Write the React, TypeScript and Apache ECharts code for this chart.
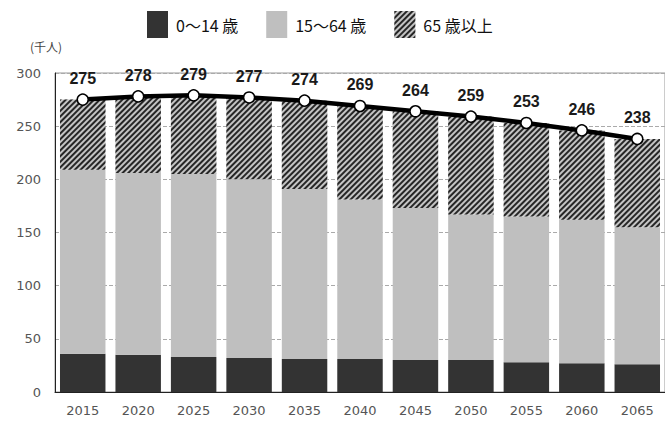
import React, { useEffect, useRef } from "react";
import * as echarts from "echarts";

const years = ["2015", "2020", "2025", "2030", "2035", "2040", "2045", "2050", "2055", "2060", "2065"];
const age0to14 = [36, 35, 33, 32, 31, 31, 30, 30, 28, 27, 26];
const age15to64 = [173, 171, 172, 168, 160, 150, 143, 137, 137, 135, 129];
const age65plus = [66, 72, 74, 77, 83, 88, 91, 92, 88, 84, 83];
const totals = [275, 278, 279, 277, 274, 269, 264, 259, 253, 246, 238];
const yTicks = { min: 0, max: 300, interval: 50 };

const FONT = "'Noto Sans CJK JP', 'Noto Sans', sans-serif";

export default function App() {
  const ref = useRef<HTMLDivElement>(null);
  useEffect(() => {
    if (!ref.current) return;
    const chart = echarts.init(ref.current, null, { renderer: "svg" });
    const hatch = {
      symbol: "rect",
      symbolSize: 1,
      dashArrayX: [1, 0],
      dashArrayY: [2, 1.2],
      rotation: -Math.PI / 4,
      color: "#262626",
    };
    chart.setOption({
      animation: false,
      backgroundColor: "#ffffff",
      textStyle: { fontFamily: FONT },
      legend: {
        left: 142,
        top: 6,
        icon: "rect",
        itemWidth: 21,
        itemHeight: 27,
        itemGap: 28,
        data: ["0〜14 歳", "15〜64 歳", "65 歳以上"],
        textStyle: { fontSize: 16, color: "#111", fontFamily: FONT, padding: [0, 0, 0, 3] },
      },
      grid: {
        left: 55,
        top: 73,
        width: 616,
        height: 319,
        show: true,
        borderColor: "#999",
        borderWidth: 1,
        containLabel: false,
      },
      graphic: [
        {
          type: "text",
          left: 30,
          top: 40,
          style: { text: "(千人)", fontSize: 12, fill: "#444", fontFamily: FONT },
        },
      ],
      xAxis: {
        type: "category",
        data: years,
        axisLine: { lineStyle: { color: "#222", width: 1 } },
        axisTick: { show: false },
        axisLabel: { fontSize: 13, color: "#555", margin: 12, fontFamily: "'DejaVu Sans', sans-serif" },
      },
      yAxis: {
        type: "value",
        min: yTicks.min,
        max: yTicks.max,
        interval: yTicks.interval,
        axisLine: { show: true, lineStyle: { color: "#222", width: 1 } },
        axisTick: { show: false },
        axisLabel: { fontSize: 13, color: "#555", margin: 14, fontFamily: "'DejaVu Sans', sans-serif" },
        splitLine: { lineStyle: { color: "#aaa", type: "dashed", width: 1 } },
      },
      series: [
        {
          name: "0〜14 歳",
          type: "bar",
          stack: "pop",
          barCategoryGap: "18%",
          data: age0to14,
          itemStyle: { color: "#333333" },
        },
        {
          name: "15〜64 歳",
          type: "bar",
          stack: "pop",
          barCategoryGap: "18%",
          data: age15to64,
          itemStyle: { color: "#bfbfbf" },
        },
        {
          name: "65 歳以上",
          type: "bar",
          stack: "pop",
          barCategoryGap: "18%",
          data: age65plus,
          itemStyle: { color: "#c4c4c4", decal: hatch },
        },
        {
          name: "総数",
          type: "line",
          data: totals,
          z: 5,
          symbol: "circle",
          symbolSize: 11,
          lineStyle: { color: "#000", width: 4.5 },
          itemStyle: { color: "#fff", borderColor: "#000", borderWidth: 1.5 },
          label: {
            show: true,
            position: "top",
            distance: 7,
            fontSize: 16,
            fontWeight: "bold",
            color: "#1a1a1a",
            fontFamily: "'Liberation Sans', Arial, sans-serif",
          },
        },
      ],
    });
    return () => chart.dispose();
  }, []);
  return (
    <div
      ref={ref}
      style={{ position: "fixed", left: 0, top: 0, width: 665, height: 423 }}
    />
  );
}
